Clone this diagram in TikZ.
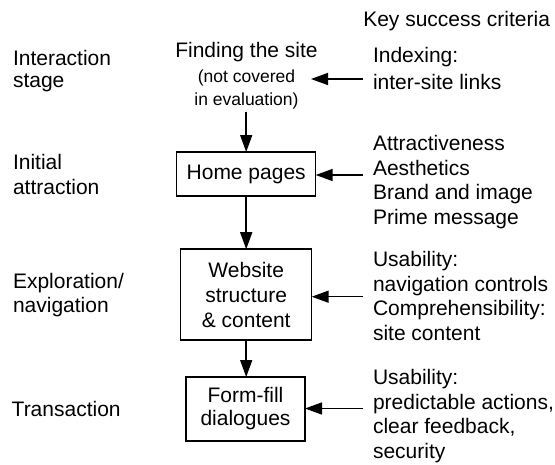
\documentclass[tikz,border=0pt]{standalone}
\usepackage{fontspec}
\setmainfont{Liberation Sans}
\usetikzlibrary{arrows.meta}
\begin{document}
\begin{tikzpicture}[x=1pt,y=-1pt,
  every node/.style={inner sep=0pt, outer sep=0pt},
  lbl/.style={anchor=base west, align=left, font=\fontsize{21}{24.5}\selectfont},
  stagebox/.style={draw, line width=1.5pt, align=center, font=\fontsize{21}{25}\selectfont},
  arr/.style={line width=1.5pt, -{Triangle[length=17pt,width=12pt]}}]
\useasboundingbox (0,0) rectangle (555,464);

% header (base anchor = baseline of the last line)
\node[lbl] (hdr) at (363.3,26.7) {Key success criteria};

% left: stages
\node[lbl, font=\fontsize{21}{22.5}\selectfont] (s1) at (13,87.5) {Interaction\\stage};
\node[lbl] (s2) at (13,194) {Initial\\attraction};
\node[lbl] (s3) at (13,312.7) {Exploration/\\navigation};
\node[lbl] (s4) at (11.7,416.7) {Transaction};

% middle: finding + boxes
\node[anchor=base, align=center, font=\fontsize{17.5}{22.3}\selectfont] (find) at (246.5,105)
  {\fontsize{21}{25}\selectfont Finding the site\\[3.4pt]
   (not covered\\ in evaluation)};
\node[stagebox, minimum width=139pt, minimum height=44pt] (home) at (246.2,174) {Home pages};
\node[stagebox, minimum width=131pt, minimum height=91pt] (web) at (246.2,294.7) {Website\\structure\\\& content};
\node[stagebox, minimum width=119pt, minimum height=64pt, font=\fontsize{21}{23}\selectfont] (form) at (245.5,409) {Form-fill\\dialogues};

% right: criteria
\node[lbl, font=\fontsize{21}{27}\selectfont] (c1) at (373,89) {Indexing:\\inter-site links};
\node[lbl] (c2) at (373,224) {Attractiveness\\Aesthetics\\Brand and image\\Prime message};
\node[lbl] (c3) at (373,340) {Usability:\\navigation controls\\Comprehensibility:\\site content};
\node[lbl] (c4) at (373,458) {Usability:\\predictable actions,\\clear feedback,\\security};

% connectors
\coordinate (t1) at (363,79);
\coordinate (h1) at (311,79);
\coordinate (t2) at (363,175);
\coordinate (t3) at (363,296.7);
\coordinate (t4) at (363,408.5);
\coordinate (f1) at (246.2,111.7);

\draw[arr] (f1) -- (home.north);
\draw[arr] (home.south) -- (web.north);
\draw[arr] (web.south) -- (web.south |- form.north);
\draw[arr] (t1) -- (h1);
\draw[arr] (t2) -- (t2 -| home.east);
\draw[arr] (t3) -- (t3 -| web.east);
\draw[arr] (t4) -- (t4 -| form.east);
\end{tikzpicture}
\end{document}
